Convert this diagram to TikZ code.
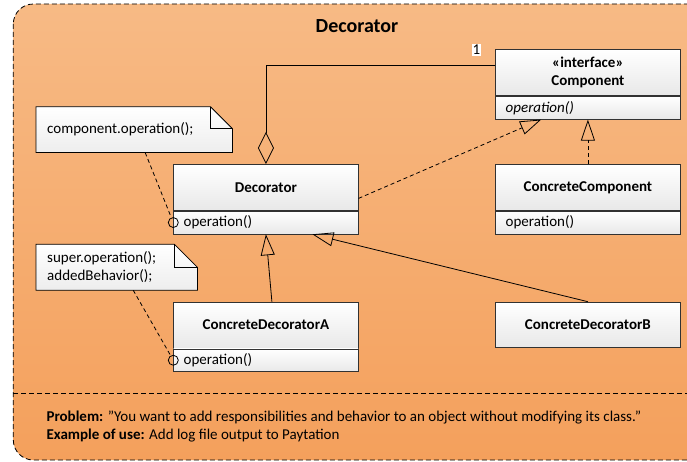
\documentclass[tikz,border=0pt]{standalone}
\usepackage{fontspec}
\setmainfont{Carlito}
\usepackage{tikz}
\usetikzlibrary{positioning}
\usetikzlibrary{arrows.meta}
\usetikzlibrary{calc}
\newcommand{\basefont}{\fontsize{15}{17.7}\selectfont}
\definecolor{frametop}{RGB}{247,186,133}
\definecolor{framebot}{RGB}{244,160,92}
\definecolor{umlline}{RGB}{50,50,50}
\tikzstyle{frame}=[draw=black,line width=0.8pt,dash pattern=on 5pt off 3pt,rounded corners=20pt,top color=frametop,bottom color=framebot]
\tikzstyle{classhead}=[draw=umlline,line width=0.8pt,top color=white,bottom color=black!9,minimum width=184.4pt,minimum height=46pt,anchor=north west,inner sep=0pt,align=center,font=\basefont\bfseries]
\tikzstyle{classops}=[draw=umlline,line width=0.8pt,top color=white,bottom color=black!9,text width=164.4pt,inner xsep=10pt,inner ysep=0pt,minimum height=22.7pt,anchor=north west,align=left,font=\basefont]
\tikzstyle{notebox}=[minimum width=196pt,minimum height=45.5pt,anchor=north west,inner sep=0pt]
\tikzstyle{notetext}=[anchor=west,inner xsep=11pt,align=left,font=\basefont]
\tikzstyle{notepath}=[draw=black,line width=0.8pt,top color=white,bottom color=black!7]
\tikzstyle{port}=[circle,draw=black,line width=0.8pt,minimum size=10pt,inner sep=0pt]
\tikzstyle{link} = [draw=black,line width=0.8pt]
\tikzstyle{dashlink} = [draw=black,line width=0.8pt,dash pattern=on 4pt off 3pt]
\tikzstyle{inherit} = [-{Triangle[open,length=21pt,width=14pt]}]
\tikzstyle{aggregate} = [-{Diamond[open,length=32pt,width=16pt]}]

\begin{document}
\begin{tikzpicture}[x=1pt,y=-1pt,font=\basefont]
    \useasboundingbox (0,0) rectangle (687,462);

    % outer frame
    \path[frame] (13.3,4) rectangle (710,460);
    \draw[dashlink,dash pattern=on 5pt off 3pt] (13.3,393) -- (700,393);
    \node[font=\fontsize{20}{24}\selectfont\bfseries] (title) at (357,26) {Decorator};

    % classes
    \node[classhead] (comp) at (495.3,49.3) {«interface»\\Component};
    \node[classops,font=\basefont\itshape] (comp-op) at (comp.south west) {operation()};

    \foreach \pos/\name/\title in {{(173.3,164)/dec/Decorator}, {(495.3,164)/ccomp/ConcreteComponent}, {(173.3,301.7)/cdeca/ConcreteDecoratorA}}
        \node[classhead] (\name) at \pos {\title};
    \foreach \name in {dec,ccomp,cdeca}
        \node[classops] (\name-op) at (\name.south west) {operation()};

    \node[classhead,minimum height=45.6pt] (cdecb) at (495.3,301.7) {ConcreteDecoratorB};

    % notes
    \node[notebox] (note1) at (36,106.7) {};
    \node[notebox,minimum width=161pt] (note2) at (36,244.3) {};
    \foreach \name/\fold in {note1/22, note2/23} {
        \path[notepath] (\name.north west) -- ([xshift=-\fold pt]\name.north east)
            -- ([yshift=-\fold pt]\name.north east) -- (\name.south east) -- (\name.south west) -- cycle;
        \draw[link] ([xshift=-\fold pt]\name.north east) |- ([yshift=-\fold pt]\name.north east);
    }
    \node[notetext] (note1-text) at (note1.west) {component.operation();};
    \node[notetext] (note2-text) at (note2.west) {super.operation();\\addedBehavior();};

    \node[port] (decport) at (dec-op.west) {};
    \node[port] (cdeport) at (cdeca-op.west) {};

    % connectors
    \draw[link,aggregate] ([yshift=-16.4pt]comp.north west) -| (dec.north);
    \node[fill=white,inner sep=1pt] (mult) at (476.4,50) {1};

    \draw[dashlink,inherit] ([yshift=-11pt]dec.east) -- ([xshift=-46.8pt]comp-op.south);
    \draw[dashlink,inherit] (ccomp.north) -- (comp-op.south);
    \draw[link,inherit] ([xshift=6pt]cdeca.north) -- (dec-op.south);
    \draw[link,inherit] (cdecb.north) -- ([xshift=46.5pt]dec-op.south);

    \draw[dashlink] ([xshift=11pt]note1.south) -- (decport);
    \draw[dashlink] ([xshift=16.5pt]note2.south) -- (cdeport);

    % problem text
    \node[anchor=west,align=left] (problem) at (43,426.5) {\textbf{Problem:} ”You want to add responsibilities and behavior to an object without modifying its class.”\\\textbf{Example of use:} Add log file output to Paytation};
\end{tikzpicture}
\end{document}
